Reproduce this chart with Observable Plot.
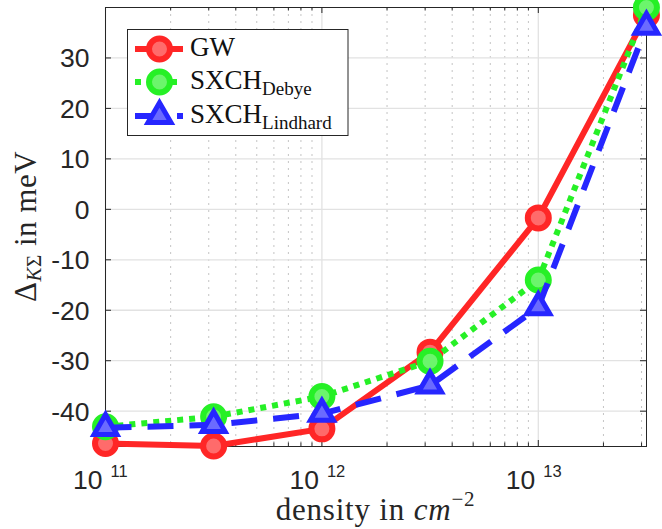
<!DOCTYPE html>
<html><head><meta charset="utf-8">
<script src="https://cdn.jsdelivr.net/npm/d3@7"></script>
<script src="https://cdn.jsdelivr.net/npm/@observablehq/plot@0.6"></script>
<style>
body{margin:0;background:#fff}
#chart{position:relative;width:662px;height:529px;overflow:hidden}
</style>
</head><body><div id="chart"></div>
<script>
// ---- data ----
const density = [1e11, 3.16e11, 1e12, 3.16e12, 1e13, 3.16e13];
const gw = [-46.4, -46.9, -43.5, -28.3, -1.7, 38.5];
const sxchDebye = [-43.1, -41.1, -37.1, -30.1, -14.0, 40.0];
const sxchLindhard = [-43.3, -42.7, -40.5, -34.9, -19.4, 36.2];
const xMajorTicks = [1e11, 1e12, 1e13];
const xTickBase = ["10", "10", "10"];
const xTickExponents = ["11", "12", "13"];
const xMinorMultipliers = [2, 3, 4, 5, 6, 7, 8, 9];
const yTicks = [-40, -30, -20, -10, 0, 10, 20, 30];
const yTickLabels = ["-40", "-30", "-20", "-10", "0", "10", "20", "30"];
const seriesNames = ["GW", "SXCH", "SXCH"];
const seriesSubs = ["", "Debye", "Lindhard"];
const xDomain = [1e11, 3.1623e13];
const yDomain = [-47, 40];

// ---- layout ----
const W = 662, H = 529;
const mL = 105, mR = 16, mT = 7, mB = 83;
const innerW = W - mL - mR, innerH = H - mT - mB;
const axisColor = "#262626";
const red = "#ff2626", redFill = "#ff6b6b";
const green = "#26f026", greenFill = "#6cf56c";
const blue = "#2626ff", blueFill = "#6b6bff";

const rows = density.map((d, i) => ({d, gw: gw[i], debye: sxchDebye[i], lind: sxchLindhard[i]}));
const xMinor = [];
for (const t of xMajorTicks) for (const m of xMinorMultipliers) if (t * m <= xDomain[1]) xMinor.push(t * m);

const plot = Plot.plot({
  width: W, height: H,
  marginLeft: mL, marginRight: mR, marginTop: mT, marginBottom: mB,
  x: {type: "log", domain: xDomain, axis: null},
  y: {domain: yDomain, axis: null},
  style: {fontFamily: "'Liberation Sans', Arial, Helvetica, sans-serif", fontSize: "26px", color: axisColor, background: "#fff", overflow: "visible"},
  marks: [
    // grid
    Plot.ruleX(xMinor, {stroke: "#c4c4c4", strokeWidth: 1, strokeDasharray: "2,5"}),
    Plot.ruleX(xMajorTicks, {stroke: "#e2e2e2", strokeWidth: 1.3}),
    Plot.ruleY(yTicks, {stroke: "#e2e2e2", strokeWidth: 1.3}),
    // inward ticks on all four sides
    Plot.ruleX(xMajorTicks, {insetTop: innerH - 6, stroke: axisColor}),
    Plot.ruleX(xMajorTicks, {insetBottom: innerH - 6, stroke: axisColor}),
    Plot.ruleX(xMinor, {insetTop: innerH - 3.5, stroke: axisColor}),
    Plot.ruleX(xMinor, {insetBottom: innerH - 3.5, stroke: axisColor}),
    Plot.ruleY(yTicks, {insetRight: innerW - 6, stroke: axisColor}),
    Plot.ruleY(yTicks, {insetLeft: innerW - 6, stroke: axisColor}),
    Plot.frame({stroke: axisColor, strokeWidth: 1}),
    // tick labels
    Plot.text(yTicks, {y: d => d, text: (d, i) => yTickLabels[i], frameAnchor: "left", textAnchor: "end", lineAnchor: "middle", dx: -16, dy: 1, fontSize: 26.5, fill: axisColor}),
    Plot.text(xMajorTicks, {x: d => d, text: (d, i) => xTickBase[i], frameAnchor: "bottom", textAnchor: "end", lineAnchor: "bottom", dx: -3, dy: 42, fontSize: 26.5, fill: axisColor}),
    Plot.text(xMajorTicks, {x: d => d, text: (d, i) => xTickExponents[i], frameAnchor: "bottom", textAnchor: "start", lineAnchor: "bottom", dx: 5, dy: 30, fontSize: 16.5, fill: axisColor}),
    // GW
    Plot.line(rows, {x: "d", y: "gw", stroke: red, strokeWidth: 6, strokeLinejoin: "miter"}),
    Plot.dot(rows, {x: "d", y: "gw", r: 10.5, stroke: red, strokeWidth: 6, fill: redFill}),
    // SXCH Debye
    Plot.line(rows, {x: "d", y: "debye", stroke: green, strokeWidth: 6, strokeDasharray: "6,6", strokeLinecap: "butt"}),
    Plot.dot(rows, {x: "d", y: "debye", r: 10.5, stroke: green, strokeWidth: 6, fill: greenFill}),
    // SXCH Lindhard
    Plot.line(rows, {x: "d", y: "lind", stroke: blue, strokeWidth: 6, strokeDasharray: "26,16", strokeLinecap: "butt"}),
    Plot.dot(rows, {x: "d", y: "lind", r: 8.5, symbol: "triangle", stroke: blue, strokeWidth: 5, fill: blueFill, strokeLinejoin: "miter"})
  ]
});

const chart = document.getElementById("chart");
chart.appendChild(plot);

// ---- axis labels and legend (text with sub/superscripts) ----
const svg = d3.select(plot);
const serif = "'Liberation Serif', 'Times New Roman', serif";

// x label
const xl = svg.append("text")
  .attr("x", mL + innerW / 2).attr("y", 520)
  .attr("text-anchor", "middle")
  .attr("font-family", serif).attr("font-size", 31).attr("letter-spacing", "0.8px")
  .attr("fill", axisColor);
xl.append("tspan").text("density in ");
xl.append("tspan").attr("font-style", "italic").text("cm");
xl.append("tspan").attr("font-size", 21).attr("dy", -14).text("\u22122");

// y label
const yl = svg.append("text")
  .attr("transform", `translate(36,${mT + innerH / 2}) rotate(-90)`)
  .attr("text-anchor", "middle")
  .attr("font-family", serif).attr("font-size", 31).attr("letter-spacing", "0.5px")
  .attr("fill", axisColor);
yl.append("tspan").text("\u0394");
yl.append("tspan").attr("font-size", 21).attr("dy", 5).attr("font-style", "italic").text("K");
yl.append("tspan").attr("font-size", 21).text("\u03a3");
yl.append("tspan").attr("dy", -5).text(" in meV");

// legend
const lg = svg.append("g");
lg.append("rect").attr("x", 127.5).attr("y", 29.5).attr("width", 220.5).attr("height", 106)
  .attr("fill", "#fff").attr("stroke", axisColor).attr("stroke-width", 1);
const legendRows = [
  {y: 49, color: red, fill: redFill, dash: null, symbol: "circle"},
  {y: 82, color: green, fill: greenFill, dash: "6,6", symbol: "circle"},
  {y: 116, color: blue, fill: blueFill, dash: "26,16", symbol: "triangle"}
];
legendRows.forEach((r, i) => {
  const ln = lg.append("line").attr("x1", 135).attr("x2", 183).attr("y1", r.y).attr("y2", r.y)
    .attr("stroke", r.color).attr("stroke-width", 6);
  if (r.dash) ln.attr("stroke-dasharray", r.dash);
  if (r.symbol === "circle") {
    lg.append("circle").attr("cx", 159.5).attr("cy", r.y).attr("r", 10.5)
      .attr("fill", r.fill).attr("stroke", r.color).attr("stroke-width", 6);
  } else {
    lg.append("path").attr("transform", `translate(159.5,${r.y})`)
      .attr("d", d3.symbol(d3.symbolTriangle, Math.PI * 8.5 * 8.5)())
      .attr("fill", r.fill).attr("stroke", r.color).attr("stroke-width", 5).attr("stroke-linejoin", "miter");
  }
  const t = lg.append("text").attr("x", 190).attr("y", r.y + 7)
    .attr("text-anchor", "start")
    .attr("font-family", serif).attr("font-size", 27).attr("fill", "#111");
  t.append("tspan").text(seriesNames[i]);
  if (seriesSubs[i]) t.append("tspan").attr("font-size", 19).attr("dy", 6).text(seriesSubs[i]);
});
</script>
</body></html>
